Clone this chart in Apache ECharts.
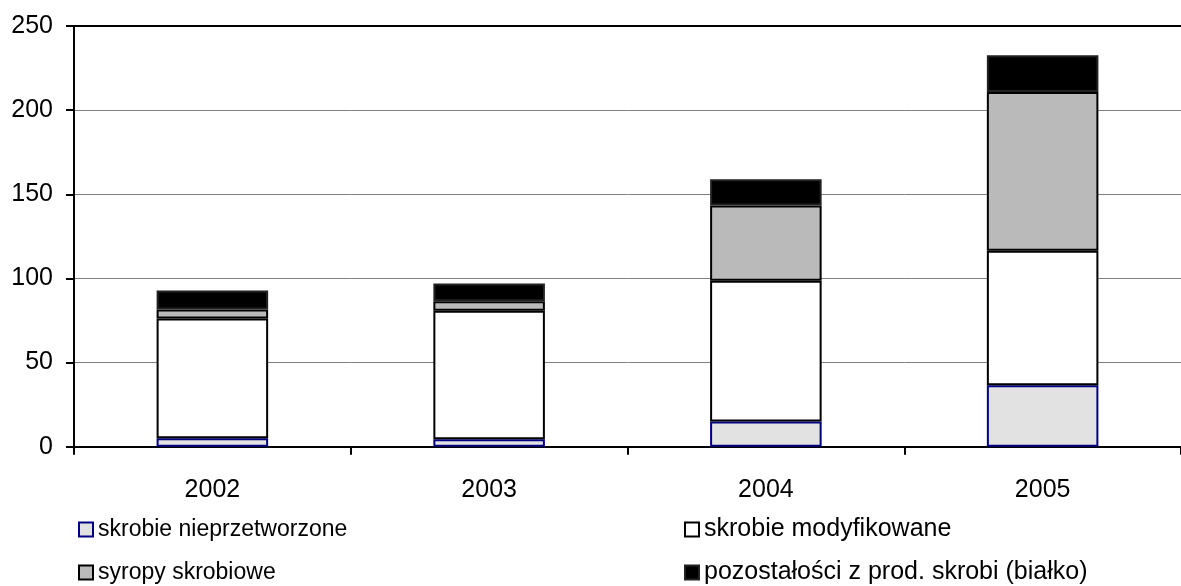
<!DOCTYPE html>
<html>
<head>
<meta charset="utf-8">
<script src="https://cdn.jsdelivr.net/npm/echarts@6/dist/echarts.min.js"></script>
<style>
    html, body {margin: 0; padding: 0; background: #fff;}
    #chart {width: 1181px; height: 586px;}
</style>
</head>
<body>
<div id="chart"></div>
<script>
const years = ['2002', '2003', '2004', '2005'];
const yTicks = [0, 50, 100, 150, 200, 250];

const nieprzetworzone = [5, 4.5, 15, 36.5];
const modyfikowane = [71.2, 76.3, 83.6, 80];
const syropy = [5.4, 5.7, 44.7, 94.3];
const pozostalosci = [11.2, 10.5, 15.7, 21.8];

const font = 'Liberation Sans, Arial, sans-serif';

const chart = echarts.init(document.getElementById('chart'));

const bar = (name, data, fill, border) => ({
    name,
    type: 'bar',
    stack: 'total',
    data,
    barWidth: '40.3%',
    itemStyle: {color: fill, borderColor: border, borderWidth: 2},
    emphasis: {disabled: true},
});

const legendItem = (name, left, top, size) => ({
    data: [name],
    left,
    top,
    padding: 0,
    icon: 'rect',
    itemWidth: 14,
    itemHeight: 14,
    itemGap: 0,
    textStyle: {fontFamily: font, fontSize: size, color: '#000'},
    selectedMode: false,
});

chart.setOption({
    animation: false,
    grid: {left: 74, top: 26, width: 1118, height: 420.7},
    xAxis: [
        {
            type: 'category',
            data: years,
            axisLine: {lineStyle: {color: '#000', width: 2}},
            axisTick: {show: true, length: 8, lineStyle: {color: '#000', width: 2}},
            axisLabel: {fontFamily: font, fontSize: 25, color: '#000', margin: 31},
        },
        {
            type: 'category',
            data: years,
            position: 'top',
            axisLine: {lineStyle: {color: '#000', width: 2}},
            axisTick: {show: false},
            axisLabel: {show: false},
        },
    ],
    yAxis: {
        type: 'value',
        min: yTicks[0],
        max: yTicks[yTicks.length - 1],
        interval: 50,
        axisLine: {show: true, lineStyle: {color: '#000', width: 2}},
        axisTick: {show: true, length: 8, lineStyle: {color: '#000', width: 2}},
        axisLabel: {fontFamily: font, fontSize: 25, color: '#000', margin: 21},
        splitLine: {lineStyle: {color: '#808080', width: 1}},
    },
    legend: [
        legendItem('skrobie nieprzetworzone', 78, 518, 23),
        legendItem('skrobie modyfikowane', 684, 517, 25),
        legendItem('syropy skrobiowe', 78, 561, 23),
        legendItem('pozostałości z prod. skrobi (białko)', 684, 560, 25),
    ],
    series: [
        bar('skrobie nieprzetworzone', nieprzetworzone, '#e2e2e2', '#000080'),
        bar('skrobie modyfikowane', modyfikowane, '#ffffff', '#000'),
        bar('syropy skrobiowe', syropy, '#bababa', '#000'),
        bar('pozostałości z prod. skrobi (białko)', pozostalosci, '#000', '#222'),
    ],
});
</script>
</body>
</html>
